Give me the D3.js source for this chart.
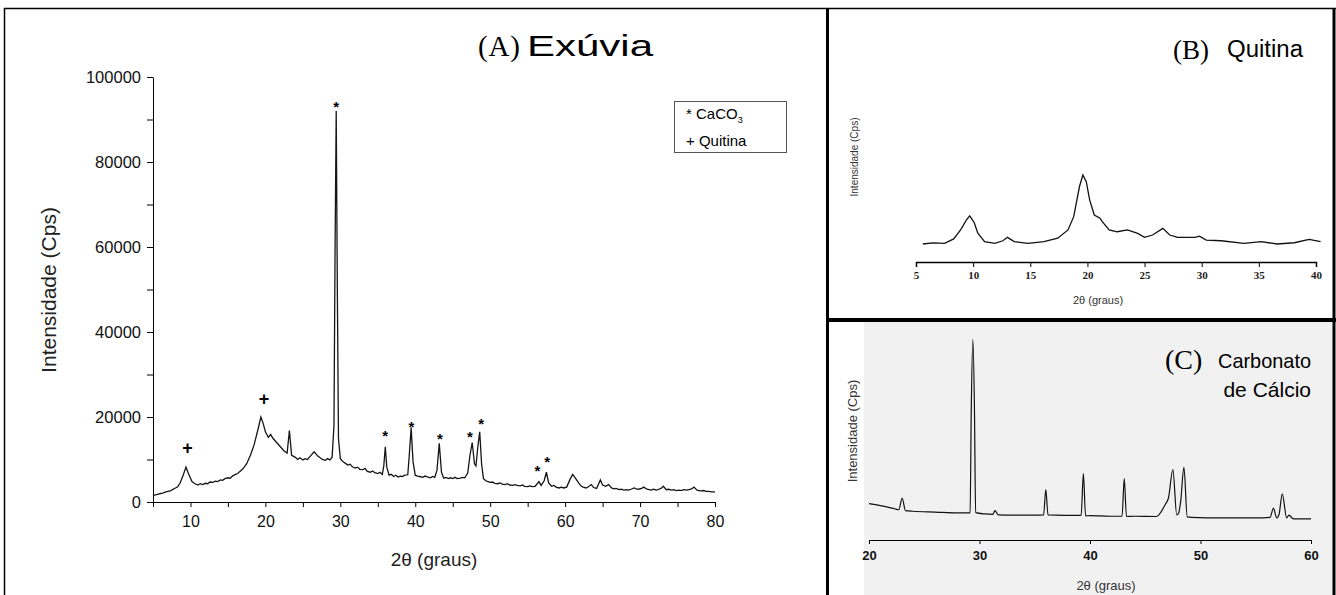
<!DOCTYPE html>
<html>
<head>
<meta charset="utf-8">
<script src="https://cdn.jsdelivr.net/npm/d3@7"></script>
<style>
  body { margin: 0; background: #fff; }
  text { font-family: "Liberation Sans", Arial, sans-serif; }
  .serif { font-family: "Liberation Serif", "Times New Roman", serif; }
</style>
</head>
<body>
<script>
// (A) Exuvia - 2theta vs intensidade (Cps)
const exuviaTheta = [5.0, 5.3, 5.6, 6.0, 6.3, 6.6, 7.0, 7.3, 7.6, 8.0, 8.3, 8.6, 9.0, 9.4, 9.8, 10.2, 10.6, 11.0, 11.3, 11.6,
    12.0, 12.3, 12.6, 13.0, 13.3, 13.6, 14.0, 14.3, 14.6, 15.0, 15.3, 15.6, 16.0, 16.3, 16.6, 17.0, 17.5, 18.0, 18.5, 19.0,
    19.4, 19.7, 20.0, 20.4, 20.7, 21.0, 21.5, 22.0, 22.5, 22.9, 23.2, 23.5, 24.0, 24.3, 24.6, 25.0, 25.3, 25.6, 26.0, 26.5,
    27.0, 27.3, 27.6, 28.0, 28.3, 28.6, 28.9, 29.15, 29.3, 29.45, 29.6, 29.75, 30.0, 30.3, 30.6, 31.0, 31.3, 31.6, 32.0, 32.3,
    32.6, 33.0, 33.3, 33.6, 34.0, 34.3, 34.6, 35.0, 35.3, 35.6, 35.8, 36.0, 36.2, 36.5, 36.8, 37.1, 37.4, 37.7, 38.0, 38.3,
    38.6, 39.0, 39.2, 39.45, 39.7, 40.0, 40.3, 40.6, 41.0, 41.3, 41.6, 42.0, 42.3, 42.6, 42.9, 43.2, 43.5, 43.8, 44.1, 44.4,
    44.7, 45.0, 45.3, 45.6, 46.0, 46.3, 46.6, 47.0, 47.3, 47.6, 47.9, 48.1, 48.35, 48.6, 48.85, 49.1, 49.4, 49.7, 50.0, 50.3,
    50.6, 51.0, 51.3, 51.6, 52.0, 52.3, 52.6, 53.0, 53.3, 53.6, 54.0, 54.3, 54.6, 55.0, 55.3, 55.6, 56.0, 56.5, 56.8, 57.2,
    57.5, 57.8, 58.2, 58.5, 58.8, 59.2, 59.5, 59.8, 60.2, 60.7, 61.0, 61.3, 61.8, 62.1, 62.4, 62.8, 63.1, 63.5, 63.8, 64.2,
    64.7, 65.0, 65.4, 65.8, 66.2, 66.5, 66.8, 67.2, 67.5, 67.8, 68.2, 68.5, 68.8, 69.2, 69.5, 69.8, 70.2, 70.5, 70.9, 71.2,
    71.5, 71.8, 72.2, 72.5, 72.8, 73.1, 73.5, 73.8, 74.2, 74.5, 74.8, 75.2, 75.5, 75.8, 76.2, 76.5, 76.8, 77.2, 77.6, 77.9,
    78.2, 78.5, 78.8, 79.2, 79.5, 79.8, 80.0];
const exuviaCps = [1500, 1700, 1800, 2000, 2100, 2300, 2500, 2600, 2900, 3300, 3600, 4400, 6200, 8200, 6400, 4800, 4300, 4000, 4300, 4100,
    4400, 4300, 4700, 4600, 4900, 4800, 5200, 5100, 5500, 5700, 5600, 6100, 6500, 6700, 7200, 7800, 9000, 11000, 13500, 17000,
    20000, 18500, 16500, 15200, 15900, 15000, 14000, 13000, 12000, 11500, 16800, 11000, 10500, 10000, 10400, 9900, 10200, 10000, 10800, 11800,
    10800, 10400, 10000, 9800, 10200, 9900, 10500, 18000, 60000, 92000, 50000, 15000, 10200, 9600, 9200, 8700, 8900, 8300, 8000, 8200,
    7700, 7600, 7900, 7200, 7000, 7300, 6900, 6700, 7000, 6500, 8500, 13000, 8200, 6300, 6500, 6000, 6300, 5900, 6100, 6000,
    6300, 6400, 11000, 17500, 9500, 6300, 6100, 6000, 5800, 6100, 5900, 5700, 6000, 5800, 7500, 13800, 7000, 5600, 5800, 5500,
    5700, 5500, 5800, 5500, 5600, 5800, 5700, 6800, 11000, 14000, 9000, 8500, 13000, 16500, 9000, 5500, 5000, 4800, 4600, 4700,
    4400, 4300, 4500, 4200, 4100, 4300, 4000, 3900, 4100, 3900, 3800, 4000, 3700, 3600, 3800, 3600, 3700, 4800, 3900, 5000,
    7000, 4500, 3700, 3900, 3500, 3300, 3500, 3300, 3500, 5500, 6500, 5800, 4500, 3800, 3500, 3300, 3600, 4100, 3400, 3200,
    5200, 4000, 3700, 4100, 3300, 3100, 3200, 2900, 3000, 2800, 2900, 2800, 3000, 3300, 3100, 3000, 3200, 3500, 3000, 2900,
    2800, 3000, 2800, 3000, 3200, 3700, 2900, 3000, 2800, 2900, 2700, 2800, 2700, 2900, 2800, 2900, 3000, 3500, 2800, 2700,
    2600, 2700, 2500, 2500, 2400, 2400, 2300];

// peak markers in panel A
const caco3Theta = [29.45, 36.0, 39.5, 43.3, 47.3, 48.8, 56.3, 57.6];
const caco3Cps = [94000, 16500, 18700, 15700, 16300, 19300, 8200, 10400];
const chitinTheta = [9.6, 19.8];
const chitinCps = [12800, 24300];

// (B) Quitina
const quitinaTheta = [5.6, 6.5, 7.5, 8.3, 8.9, 9.4, 9.7, 10.1, 10.4, 11.0, 11.9, 12.6, 13.0, 13.6, 14.8, 16.2, 17.4, 18.3, 18.8, 19.3,
    19.6, 19.9, 20.2, 20.6, 21.1, 21.3, 21.9, 22.6, 23.5, 24.4, 25.0, 25.7, 26.6, 27.2, 27.9, 29.4, 29.8, 30.4, 31.7, 33.7,
    35.2, 36.6, 38.1, 39.4, 40.4];
const quitinaInt = [10, 10.6, 10.4, 12.8, 17.8, 23.3, 25.6, 21.8, 16.1, 11.3, 10.4, 11.8, 13.7, 11.3, 10.4, 11.3, 13.2, 17.8, 25.2, 41.8,
    48.3, 44.6, 34.4, 26.1, 24.3, 22.4, 17.8, 16.8, 17.8, 15.9, 13.7, 15, 18.7, 15, 13.7, 13.7, 14.4, 12.2, 11.8, 10.4,
    11.3, 10, 10.7, 12.6, 11.3];

// (C) Carbonato de Calcio
const calcioTheta = [20.0, 21.4, 22.3, 22.7, 23.0, 23.3, 24.0, 26.0, 28.0, 29.0, 29.15, 29.25, 29.4, 29.55, 29.65, 30.5, 31.2, 31.4, 31.7, 33.0,
    35.0, 35.8, 36.0, 36.2, 39.2, 39.4, 39.6, 40.0, 42.0, 42.9, 43.1, 43.3, 44.0, 46.0, 46.8, 47.1, 47.5, 47.85, 48.0, 48.2,
    48.5, 48.8, 49.2, 52.0, 55.0, 56.3, 56.6, 56.9, 57.1, 57.4, 57.8, 58.0, 58.4, 60.0];
const calcioInt = [17.3, 16.0, 14.9, 14.4, 20, 14, 13.7, 13.3, 12.9, 12.9, 13, 60, 95.4, 60, 13, 12.4, 12.2, 14, 12, 11.8,
    11.8, 12, 24, 12, 11.7, 31.6, 11.5, 11.6, 11.3, 11.3, 29.2, 11.2, 11.3, 11.2, 16.8, 20, 33.5, 12, 12.5, 18,
    34.6, 11, 10.8, 10.5, 10.5, 10.8, 15.2, 10.5, 12, 22, 10.5, 11.8, 10.1, 10.1];

const svgWidth = 1336;
const svgHeight = 595;

const svg = d3.select("body")
    .append("svg")
    .attr("width", svgWidth)
    .attr("height", svgHeight);

// ---------- panel frames ----------
// panel C background (grey scan)
svg.append("rect")
    .attr("x", 864).attr("y", 322)
    .attr("width", 470).attr("height", 273)
    .attr("fill", "#f1f1f1");

svg.append("line").attr("x1", 4).attr("x2", 1336).attr("y1", 8.5).attr("y2", 8.5)
    .attr("stroke", "#000").attr("stroke-width", 1.5);
svg.append("line").attr("x1", 4.5).attr("x2", 4.5).attr("y1", 8).attr("y2", svgHeight)
    .attr("stroke", "#000").attr("stroke-width", 1.5);
svg.append("line").attr("x1", 827.5).attr("x2", 827.5).attr("y1", 8).attr("y2", svgHeight)
    .attr("stroke", "#000").attr("stroke-width", 3);
svg.append("line").attr("x1", 1334).attr("x2", 1334).attr("y1", 8).attr("y2", svgHeight)
    .attr("stroke", "#000").attr("stroke-width", 3);
svg.append("line").attr("x1", 826).attr("x2", 1336).attr("y1", 320).attr("y2", 320)
    .attr("stroke", "#000").attr("stroke-width", 4);

// ---------- (A) Exuvia ----------
const xA = d3.scaleLinear().domain([5, 80]).range([153, 715]);
const yA = d3.scaleLinear().domain([0, 100000]).range([502, 77]);

const gA = svg.append("g");

gA.append("g")
    .attr("transform", `translate(0, ${yA(0)})`)
    .call(d3.axisBottom(xA)
        .tickValues(d3.range(5, 81, 5))
        .tickFormat(d => d % 10 === 0 ? d : "")
        .tickSize(5).tickSizeOuter(0).tickPadding(9))
    .call(g => g.selectAll("text").attr("font-size", 16).attr("fill", "#111"));

gA.append("g")
    .attr("transform", `translate(${xA(5)}, 0)`)
    .call(d3.axisLeft(yA)
        .tickValues(d3.range(0, 100001, 10000))
        .tickFormat(d => d % 20000 === 0 ? d : "")
        .tickSize(6).tickSizeOuter(0).tickPadding(6))
    .call(g => g.selectAll("text").attr("font-size", 16.5).attr("fill", "#111"));

gA.append("path")
    .datum(d3.zip(exuviaTheta, exuviaCps))
    .attr("fill", "none")
    .attr("stroke", "#151515")
    .attr("stroke-width", 1.3)
    .attr("d", d3.line().x(d => xA(d[0])).y(d => yA(d[1])));

gA.selectAll(".star")
    .data(d3.zip(caco3Theta, caco3Cps))
    .enter()
    .append("text")
    .attr("x", d => xA(d[0]))
    .attr("y", d => yA(d[1]) + 9)
    .attr("text-anchor", "middle")
    .attr("font-size", 15)
    .attr("font-weight", "bold")
    .text("*");

gA.selectAll(".plus")
    .data(d3.zip(chitinTheta, chitinCps))
    .enter()
    .append("text")
    .attr("x", d => xA(d[0]))
    .attr("y", d => yA(d[1]) + 6)
    .attr("text-anchor", "middle")
    .attr("font-size", 18)
    .attr("font-weight", "bold")
    .text("+");

gA.append("text")
    .attr("transform", "rotate(-90)")
    .attr("x", -290)
    .attr("y", 56)
    .attr("text-anchor", "middle")
    .attr("font-size", 21)
    .attr("fill", "#222")
    .text("Intensidade (Cps)");

gA.append("text")
    .attr("x", 434)
    .attr("y", 566)
    .attr("text-anchor", "middle")
    .attr("font-size", 19)
    .attr("fill", "#222")
    .text("2θ (graus)");

gA.append("text")
    .attr("class", "serif")
    .attr("x", 478).attr("y", 56)
    .attr("font-size", 29)
    .attr("textLength", 42)
    .text("(A)");
gA.append("text")
    .attr("x", 527).attr("y", 56)
    .attr("font-size", 30)
    .attr("textLength", 126)
    .attr("lengthAdjust", "spacingAndGlyphs")
    .text("Exúvia");

// legend
gA.append("rect")
    .attr("x", 674.5).attr("y", 101.5)
    .attr("width", 112).attr("height", 51)
    .attr("fill", "#fff").attr("stroke", "#555");
const leg1 = gA.append("text").attr("x", 686).attr("y", 119).attr("font-size", 15);
leg1.append("tspan").text("* CaCO");
leg1.append("tspan").attr("font-size", 9).attr("dy", 4).text("3");
gA.append("text").attr("x", 686).attr("y", 146).attr("font-size", 15).text("+ Quitina");

// ---------- (B) Quitina ----------
const xB = d3.scaleLinear().domain([5, 40]).range([916, 1316]);
const yB = d3.scaleLinear().domain([0, 100]).range([262, 82]);

const gB = svg.append("g");

gB.append("g")
    .attr("transform", `translate(0, 262)`)
    .call(d3.axisBottom(xB).tickValues(d3.range(5, 41, 5)).tickSize(5).tickSizeOuter(5).tickPadding(4))
    .call(g => g.selectAll("text")
        .attr("class", "serif").attr("font-size", 11).attr("font-weight", "bold").attr("fill", "#222"))
    .call(g => g.select(".domain").attr("stroke-width", 1.5));

gB.append("path")
    .datum(d3.zip(quitinaTheta, quitinaInt))
    .attr("fill", "none")
    .attr("stroke", "#111")
    .attr("stroke-width", 1.3)
    .attr("d", d3.line().x(d => xB(d[0])).y(d => yB(d[1])));

gB.append("text")
    .attr("transform", "rotate(-90)")
    .attr("x", -157).attr("y", 858)
    .attr("text-anchor", "middle")
    .attr("font-size", 10).attr("fill", "#333")
    .text("Intensidade (Cps)");

gB.append("text")
    .attr("x", 1098).attr("y", 304)
    .attr("text-anchor", "middle")
    .attr("font-size", 11).attr("fill", "#333")
    .text("2θ (graus)");

gB.append("text")
    .attr("class", "serif")
    .attr("x", 1173).attr("y", 59)
    .attr("font-size", 27)
    .text("(B)");
gB.append("text")
    .attr("x", 1227).attr("y", 57)
    .attr("font-size", 23)
    .attr("textLength", 76)
    .attr("lengthAdjust", "spacingAndGlyphs")
    .text("Quitina");

// ---------- (C) Carbonato de Calcio ----------
const xC = d3.scaleLinear().domain([20, 60]).range([869, 1311]);
const yC = d3.scaleLinear().domain([0, 100]).range([540, 330]);

const gC = svg.append("g");

gC.append("g")
    .attr("transform", `translate(0, 540)`)
    .call(d3.axisBottom(xC).tickValues(d3.range(20, 61, 10)).tickSize(4).tickSizeOuter(4).tickPadding(7))
    .call(g => g.selectAll("text").attr("font-size", 13).attr("font-weight", "bold").attr("fill", "#111"));

gC.append("path")
    .datum(d3.zip(calcioTheta, calcioInt))
    .attr("fill", "none")
    .attr("stroke", "#111")
    .attr("stroke-width", 1.2)
    .attr("d", d3.line().curve(d3.curveMonotoneX).x(d => xC(d[0])).y(d => yC(d[1])));

gC.append("text")
    .attr("transform", "rotate(-90)")
    .attr("x", -431).attr("y", 857)
    .attr("text-anchor", "middle")
    .attr("font-size", 13).attr("fill", "#333")
    .text("Intensidade (Cps)");

gC.append("text")
    .attr("x", 1106).attr("y", 590)
    .attr("text-anchor", "middle")
    .attr("font-size", 13).attr("fill", "#333")
    .text("2θ (graus)");

gC.append("text")
    .attr("class", "serif")
    .attr("x", 1165).attr("y", 369)
    .attr("font-size", 28)
    .text("(C)");
gC.append("text")
    .attr("x", 1218).attr("y", 368)
    .attr("font-size", 21)
    .attr("textLength", 93)
    .attr("lengthAdjust", "spacingAndGlyphs")
    .text("Carbonato");
gC.append("text")
    .attr("x", 1311).attr("y", 397)
    .attr("text-anchor", "end")
    .attr("font-size", 21)
    .text("de Cálcio");
</script>
</body>
</html>
